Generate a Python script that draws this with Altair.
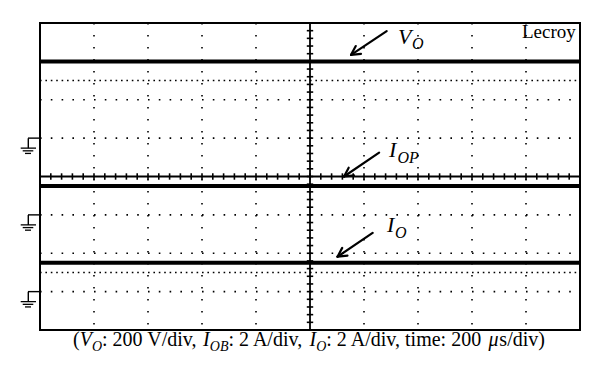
import altair as alt
import pandas as pd
import numpy as np

# ---------------- data (screen divisions: x 0..10, y -4..4) ----------------
time_div = [0.0, 2.0, 4.0, 6.0, 8.0, 10.0]
vo_trace = [3.0, 3.0, 3.0, 3.0, 3.0, 3.0]
iop_trace = [-0.25, -0.25, -0.25, -0.25, -0.25, -0.25]
io_trace = [-2.25, -2.25, -2.25, -2.25, -2.25, -2.25]
ref_levels = [2.5, -2.5]
ground_levels = [1.0, -1.0, -3.0]

arrow_names = ["VO", "IOP", "IO"]
arrow_tail_x = [6.42, 6.28, 6.16]
arrow_tail_y = [3.79, 0.62, -1.47]
arrow_head_x = [5.76, 5.63, 5.51]
arrow_head_y = [3.17, 0.00, -2.09]

# ---------------- layout ----------------
W, H = 540, 307
PX = W / 10.0
PY = H / 8.0
FONT = "Liberation Serif"

xs = alt.Scale(domain=[0, 10], nice=False, zero=False)
ys = alt.Scale(domain=[-4, 4], nice=False, zero=False)


def X(f):
    return alt.X(f, type="quantitative", scale=xs, axis=None)


def Y(f):
    return alt.Y(f, type="quantitative", scale=ys, axis=None)


def to_dx(px):
    return px / PX


def to_dy(py):
    return 4 - py / PY


layers = []

# dotted grid
hgrid = pd.DataFrame({"y": [3, 2, 1, -1, -2, -3], "x0": 0, "x1": 10})
layers.append(alt.Chart(hgrid).mark_rule(color="black", strokeWidth=1.6,
                                         strokeDash=[1.6, 9.2]).encode(
    x=X("x0"), x2="x1", y=Y("y")))
vgrid = pd.DataFrame({"x": [1, 2, 3, 4, 6, 7, 8, 9], "y0": 4, "y1": -4})
layers.append(alt.Chart(vgrid).mark_rule(color="black", strokeWidth=1.6,
                                         strokeDash=[1.6, 10.4]).encode(
    x=X("x"), y=Y("y0"), y2="y1"))

# centre cross with ticks
cross_h = pd.DataFrame({"y": [0], "x0": [0], "x1": [10]})
layers.append(alt.Chart(cross_h).mark_rule(color="black", strokeWidth=1.8).encode(
    x=X("x0"), x2="x1", y=Y("y")))
cross_v = pd.DataFrame({"x": [5], "y0": [4], "y1": [-4]})
layers.append(alt.Chart(cross_v).mark_rule(color="black", strokeWidth=1.8).encode(
    x=X("x"), y=Y("y0"), y2="y1"))
ht = np.round(np.arange(0.2, 10.0, 0.2), 2)
hticks = pd.DataFrame({"x": ht, "y0": -3.2 / PY, "y1": 3.2 / PY})
layers.append(alt.Chart(hticks).mark_rule(color="black", strokeWidth=1.6).encode(
    x=X("x"), y=Y("y0"), y2="y1"))
vt = np.round(np.arange(-3.8, 4.0, 0.2), 2)
vticks = pd.DataFrame({"y": vt, "x0": 5 - 3.2 / PX, "x1": 5 + 3.2 / PX})
layers.append(alt.Chart(vticks).mark_rule(color="black", strokeWidth=1.6).encode(
    x=X("x0"), x2="x1", y=Y("y")))

# reference dense dotted levels
refs = pd.DataFrame({"y": ref_levels, "x0": 0, "x1": 10})
layers.append(alt.Chart(refs).mark_rule(color="black", strokeWidth=1.6,
                                        strokeDash=[1.6, 3.8]).encode(
    x=X("x0"), x2="x1", y=Y("y")))

# traces
traces = pd.DataFrame({
    "t": time_div * 3,
    "v": vo_trace + iop_trace + io_trace,
    "s": ["VO"] * len(time_div) + ["IOP"] * len(time_div) + ["IO"] * len(time_div),
})
layers.append(alt.Chart(traces).mark_line(color="black", strokeWidth=4).encode(
    x=X("t"), y=Y("v"), detail="s:N"))

# ground symbols
gnd = pd.DataFrame({"lvl": ground_levels})
g = alt.Chart(gnd)
layers.append(g.mark_rule(color="black", strokeWidth=1.4).encode(
    x=alt.value(-12), x2=alt.value(0), y=Y("lvl")))
layers.append(g.transform_calculate(lv2=f"datum.lvl - {10 / PY}").mark_rule(
    color="black", strokeWidth=1.4).encode(
    x=alt.value(-11.7), y=Y("lvl"), y2="lv2:Q"))
for off, a, b in [(10, -19.3, -4), (12.7, -17.3, -6.7), (15.3, -15, -9)]:
    layers.append(g.mark_rule(color="black", strokeWidth=1.3, yOffset=off).encode(
        x=alt.value(a), x2=alt.value(b), y=Y("lvl")))

# arrows
rows = []
for n, tx, ty, hx, hy in zip(arrow_names, arrow_tail_x, arrow_tail_y,
                             arrow_head_x, arrow_head_y):
    rows.append({"x": tx, "y": ty, "x2": hx, "y2": hy})
    dx, dy = (hx - tx) * PX, (hy - ty) * PY
    L = np.hypot(dx, dy)
    ux, uy = dx / L, dy / L
    for ang in (np.radians(28), -np.radians(28)):
        bx = -(ux * np.cos(ang) - uy * np.sin(ang)) * 10
        by = -(ux * np.sin(ang) + uy * np.cos(ang)) * 10
        rows.append({"x": hx, "y": hy, "x2": hx + bx / PX, "y2": hy + by / PY})
arrows = pd.DataFrame(rows)
layers.append(alt.Chart(arrows).mark_rule(color="black", strokeWidth=2.2,
                                          strokeCap="round").encode(
    x=X("x"), y=Y("y"), x2="x2", y2="y2"))

# ---------------- texts ----------------
REG = {'(': 333, ')': 333, ':': 278, ' ': 250, '0': 500, '2': 500, 'V': 722,
       '/': 278, 'd': 500, 'i': 278, 'v': 500, ',': 250, 'A': 722, 't': 278,
       'm': 778, 'e': 444, 's': 389}
ITA = {'V': 611, 'O': 722, 'I': 333, 'B': 611, 'P': 611, 'μ': 540}

caption_parts = [("(", 0, 0), ("V", 1, 0), ("O", 1, 1), (": 200 V/div, ", 0, 0),
                 ("I", 1, 0), ("OB", 1, 1), (": 2 A/div, ", 0, 0),
                 ("I", 1, 0), ("O", 1, 1), (": 2 A/div, time: 200 ", 0, 0),
                 ("μ", 1, 0), ("s/div)", 0, 0)]
FS, SFS = 20, 14
texts = []
cx = 33.0
for t, it, sub in caption_parts:
    fs = SFS if sub else FS
    texts.append({"t": t, "xd": to_dx(cx), "yd": to_dy(328 if sub else 323),
                  "fs": fs, "it": it})
    table = ITA if it else REG
    cx += sum(table.get(ch, 500) for ch in t) * fs / 1000.0

labels = [("V", 358, 21, 22, 1), ("O", 372, 26, 16, 1),
          ("I", 349, 134, 22, 1), ("OP", 357.5, 139.5, 16, 1),
          ("I", 347, 209, 22, 1), ("O", 355, 214.5, 16, 1),
          ("Lecroy", 482, 14.5, 19, 0)]
for t, px, py, fs, it in labels:
    texts.append({"t": t, "xd": to_dx(px), "yd": to_dy(py), "fs": fs, "it": it})

tdf = pd.DataFrame(texts)
for it in (0, 1):
    layers.append(alt.Chart(tdf).transform_filter(f"datum.it == {it}").mark_text(
        align="left", baseline="alphabetic", font=FONT, color="black",
        fontStyle="italic" if it else "normal").encode(
        x=X("xd"), y=Y("yd"), text="t:N",
        size=alt.Size("fs:Q", scale=None, legend=None)))

chart = alt.layer(*layers).properties(
    width=W, height=H,
    autosize=alt.AutoSizeParams(type="none"),
    padding={"left": 32, "top": 15, "right": 10, "bottom": 40},
    background="white",
).configure_view(stroke="black", strokeWidth=2)

chart.save("out.html", embed_options={"renderer": "svg", "actions": False})
